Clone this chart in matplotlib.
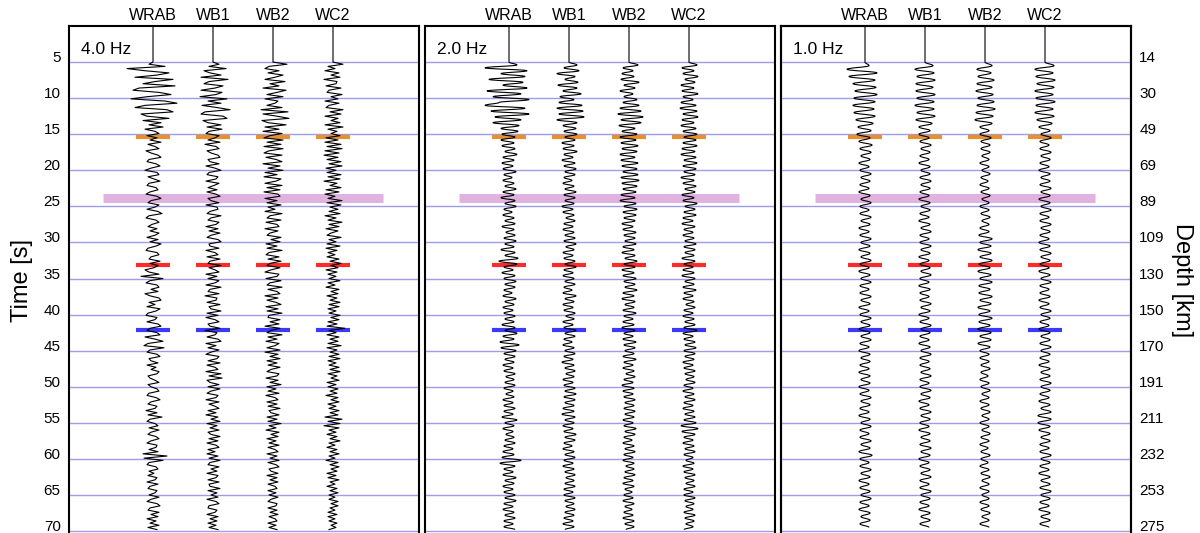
import numpy as np
import matplotlib
matplotlib.use("Agg")
from matplotlib import pyplot as plt
from matplotlib.path import Path
from matplotlib.patches import PathPatch

plt.rcParams["font.family"] = ["Liberation Sans", "DejaVu Sans"]

stations = ["WRAB", "WB1", "WB2", "WC2"]
freq_labels = ["4.0 Hz", "2.0 Hz", "1.0 Hz"]
sample_step = [0.3, 0.4, 0.5]      # s between picked extrema, per panel
trace_start = 5.0                  # s, wiggles begin here
time_ticks = [5, 10, 15, 20, 25, 30, 35, 40, 45, 50, 55, 60, 65, 70]
depth_labels = ["14", "30", "49", "69", "89", "109", "130", "150", "170",
                "191", "211", "232", "253", "275"]

# phase picks [s]
phase_times = [15.4, 33.1, 42.2]
phase_colors = ["#e8902a", "#ff2a2a", "#3a3aff"]
wide_phase_time = 23.9
wide_phase_color = "#e0b2df"

# trace amplitudes (pixels, 60 px = trace spacing)
wrab_4hz = [0, -4, 12, -26, -8, 16, 4, -18, 20, 2, -10, 22, -14, -20, 6, 18, -6, -22, 12, 24,
            -8, -18, 14, 20, -12, -6, 16, -10, 8, -4, 10, -8, 2, 6, -6, 4, -3, 8, -5, 2,
            6, -7, -2, 5, 8, -4, -6, 3, 7, -2, -8, 4, 6, -5, 1, 7, -4, -6, 3, 5,
            -3, -7, 4, 8, -2, -5, 6, 2, -6, 5, 9, -4, -7, 3, 6, -1, -5, 4, -3, 6,
            2, -6, 5, -3, 8, 3, -5, -7, 4, 6, -2, -4, 7, -3, 5, 1, -8, -4, 6, -12,
            10, -3, -7, 4, 6, -2, 5, -8, -3, 6, 8, -4, 2, -6, 7, 3, -5, -7, 4, 2,
            -6, 5, 8, -3, -6, 4, 7, -8, 2, 10, -5, -9, 11, -3, -6, 4, 7, -4, -2, 5,
            -6, 3, -2, 6, 4, -5, -3, 2, 6, -5, -2, 4, 6, -4, -6, 3, 7, -2, -5, 4,
            2, -7, 4, -5, 9, -3, -6, 2, 5, -4, 6, -2, -5, 3, 6, -2, -6, 4, 3, -4,
            5, -10, 14, -9, 10, -4, -6, 3, 5, -4, 1, -5, 4, 2, -6, 5, -3, -5, 4, 2,
            -4, 6, -2, -6, 4, 7, -3, -5, 6, -2, 5, -6, 3, -3, 6, -5, 4]
wb1_4hz = [0, 6, -4, 13, -9, -3, 8, -12, 15, -4, -9, 10, 2, -12, 9, 3, -13, 14, -5, 8,
           -11, 4, 17, -8, -12, 10, 14, -10, -5, 8, -6, 9, -4, -7, 6, 2, -5, 7, -8, 3,
           6, -6, -2, 5, 7, -5, -3, 6, -7, 2, 8, -4, -6, 5, 3, -7, 6, 1, -5, 4,
           -6, 3, 7, -5, -2, 6, -7, 4, 5, -3, -6, 8, -2, -5, 6, 3, -7, 5, -4, 7,
           -2, -6, 5, 8, -4, -3, 6, -7, 2, 5, -6, 7, -3, -5, 8, -4, 2, 6, -7, 4,
           -5, 6, 2, -7, 8, -3, -5, 6, -8, 4, 3, -6, 7, -4, -2, 8, -6, 5, -7, 2,
           6, -5, -3, 7, -8, 4, 2, -6, 5, 8, -7, 3, -5, 6, -2, -7, 6, 4, -5, 7,
           -6, 2, 5, -7, 8, -4, 9, -6, -3, 6, -5, 7, -2, -6, 5, 3, -7, 6, -4, 2,
           6, -5, 3, -7, 5, -2, 7, -6, 4, -3, 6, -5, -2, 7, -4, 5, -6, 3, 6, -5,
           2, -6, 5, -4, 7, -3, -5, 6, -2, 4, -6, 5, 3, -5, 6, -4, -3, 7, -5, 4,
           -2, 5, -6, 3, 6, -4, -5, 4, 2, -6, 5, -3, 4, -5, 3, -4, 5]
wb2_4hz = [0, 14, -4, -8, 6, -5, 10, 2, -8, 12, -3, 6, -10, 13, 4, -6, 10, -8, 5, 2,
           -6, 9, -12, 15, -10, 4, 16, -11, -5, 13, -8, 6, -10, 9, -3, -9, 10, -6, 8, -9,
           10, -4, -9, 9, -7, 3, 9, -10, 7, -5, 10, -8, 4, -9, 8, 3, -8, 9, -6, 7,
           -9, 5, 7, -8, 4, -6, 8, -5, 2, -8, 9, -3, -6, 8, -7, 4, 6, -8, 5, -3,
           -6, 8, -2, 7, -7, 4, -6, 9, -4, -7, 6, -5, 8, -3, -6, 7, -2, -8, 6, 4,
           -7, 8, -3, -6, 9, -5, 4, 7, -8, 5, -6, 3, 8, -7, 5, -6, 9, -4, -5, 7,
           -3, 6, -8, 7, -2, -6, 9, -5, 4, -7, 6, 2, -6, 7, -8, 5, -3, 7, -6, 4,
           -5, 7, -2, -6, 6, 4, -7, 5, -3, 8, -6, 3, -5, 6, -7, 2, 5, -6, 4, -5,
           7, -4, -2, 6, -6, 4, -5, 8, -4, 3, -7, 6, -2, 5, -6, 3, -4, 6, -5, 2,
           5, -6, 4, -3, 6, -5, 3, 6, -4, -2, 5, -6, 4, -3, 5, -5, 2, 4, -5, 3,
           -4, 5, -2, -5, 4, 3, -5, 4, -3, 5, -4, 2, 4, -5, 3, -4, 4]
wc2_4hz = [0, 10, -5, 2, -8, 6, -2, 7, -9, 4, 3, -7, 8, -4, -6, 9, -2, 5, -8, 6,
           -4, -7, 10, -3, 8, -8, 5, -2, 7, -8, 10, -5, 4, -2, 7, -7, 5, -8, 8, -6,
           9, -8, 6, -9, 5, -6, 8, -4, 9, -7, 3, -6, 8, -5, 7, -9, 4, -3, 8, -7,
           6, -8, 2, -5, 9, -6, 8, -3, 5, -4, 7, -8, 3, -5, 9, -4, 6, -7, 5, -2,
           -6, 8, -4, 3, -6, 7, -7, 4, -5, 2, -6, 6, -3, 8, -2, 5, -7, 4, -5, 3,
           -4, 7, -5, 2, -7, 6, -2, 5, -6, 4, -3, 7, -4, 6, -5, 3, -4, 7, -2, 6,
           -5, 4, -6, 12, -4, 3, -6, 6, -3, 5, -5, 8, -6, 4, -3, 6, -4, 7, -5, 3,
           -4, 6, -3, 7, -5, 4, -2, 6, -6, 3, -5, 5, -3, 4, -7, 5, -2, 6, -5, 3,
           -4, 6, -3, 5, -8, 9, -5, 7, -9, 6, -4, 3, -6, 4, -3, 7, -4, 2, -6, 4,
           -3, 6, -4, 2, -7, 5, -3, 6, -2, 4, -6, 3, -5, 6, -3, 2, -6, 4, -3, 5,
           -4, 2, -4, 5, -2, 5, -3, 2, -5, 4, -5, 2, -4, 4, -2, 3, -4]

wrab_2hz = [0, 8, -24, 18, -8, 16, -20, 14, -6, 18, -22, 12, -16, 20, -10,
            -24, 16, -18, 20, -14, 12, -16, 10, -8, 9, -7, 6, -8, 5, -7,
            6, -4, 8, -6, 5, -7, 4, -6, 7, -5, 3, -6, 5, -4, 7,
            -6, 5, -8, 6, -4, 7, -5, 3, -6, 5, -4, 6, -7, 5, -3,
            6, -5, 7, -4, 5, -8, 6, -4, 9, -10, 8, -5, 4, -7, 6,
            -5, 7, -4, 6, -5, 3, -6, 7, -4, 5, -6, 4, -5, 6, -4,
            5, -7, 6, -4, 8, -6, 5, -9, 10, -8, 7, -5, 6, -4, 5,
            -6, 4, -5, 6, -3, 5, -4, 6, -5, 4, -3, 5, -6, 4, -5,
            6, -5, 4, -7, 8, -4, 5, -6, 4, -3, 5, -4, 6, -5, 4,
            -6, 5, -7, 12, -9, 6, -5, 4, -6, 7, -4, 5, -6, 4, -5,
            6, -4, 7, -5, 4, -6, 5, -4, 6, -5, 4, -5, 6]
wb1_2hz = [0, 8, -5, 10, -12, 6, -4, 9, -11, 8, -6, 12, -9, 5, -10,
           13, -12, 14, -10, 15, -12, 8, -6, 7, -5, 8, -4, 6, -7, 5,
           -6, 8, -5, 4, -7, 6, -5, 7, -4, 6, -5, 3, -6, 5, -4,
           7, -5, 6, -4, 5, -7, 4, -6, 5, -3, 6, -5, 4, -6, 5,
           -4, 6, -5, 7, -3, 5, -6, 4, -5, 6, -4, 7, -5, 4, -6,
           5, -4, 6, -5, 3, -6, 7, -4, 5, -6, 4, -5, 6, -3, 5,
           -6, 4, -5, 7, -4, 6, -5, 3, -6, 5, -4, 6, -5, 4, -7,
           5, -4, 6, -3, 5, -6, 4, -5, 6, -4, 7, -5, 6, -4, 5,
           -6, 5, -7, 6, -4, 5, -6, 4, -5, 7, -4, 6, -5, 3, -6,
           5, -4, 6, -5, 4, -6, 5, -4, 6, -3, 5, -4, 6, -5, 4,
           -5, 6, -4, 5, -3, 6, -4, 5, -5, 4, -6, 5, -4]
wb2_2hz = [0, 9, -6, 4, -7, 5, -8, 10, -5, 6, -9, 4, -5, 8, -6,
           10, -9, 12, -11, 14, -8, 12, -10, 6, -7, 8, -9, 7, -8, 9,
           -7, 8, -9, 6, -8, 9, -7, 8, -6, 9, -8, 10, -7, 8, -6,
           7, -8, 6, -9, 7, -5, 8, -6, 7, -5, 6, -7, 4, -6, 7,
           -5, 6, -4, 7, -6, 5, -7, 6, -4, 8, -5, 6, -7, 5, -6,
           7, -5, 6, -4, 8, -6, 5, -7, 6, -4, 5, -6, 7, -5, 4,
           -6, 5, -7, 6, -5, 4, -6, 7, -5, 6, -4, 5, -6, 7, -5,
           4, -6, 5, -3, 6, -5, 4, -7, 5, -6, 4, -5, 6, -4, 5,
           -5, 6, -4, 5, -6, 4, -5, 7, -4, 6, -5, 3, -6, 5, -4,
           6, -5, 4, -6, 5, -3, 5, -4, 6, -5, 4, -6, 5, -4, 3,
           -5, 4, -6, 5, -4, 3, -5, 4, -6, 5, -4, 5, -3]
wc2_2hz = [0, 8, -7, 5, -6, 9, -4, 6, -8, 5, -7, 9, -6, 4, -8,
           7, -9, 8, -6, 9, -7, 5, -8, 7, -6, 8, -5, 7, -6, 8,
           -7, 6, -8, 7, -5, 8, -6, 7, -5, 6, -8, 5, -6, 7, -4,
           6, -7, 5, -6, 8, -4, 6, -5, 7, -6, 4, -7, 6, -5, 4,
           -6, 5, -4, 7, -5, 6, -4, 5, -7, 6, -5, 4, -6, 5, -7,
           6, -4, 5, -6, 7, -5, 4, -6, 5, -3, 6, -5, 4, -6, 5,
           -4, 6, -5, 8, -6, 4, -5, 6, -4, 7, -5, 6, -4, 5, -6,
           4, -5, 6, -4, 5, -3, 6, -5, 4, -6, 5, -4, 6, -5, 4,
           -6, 5, -4, 6, -5, 7, -8, 9, -7, 6, -5, 4, -6, 5, -4,
           6, -5, 4, -3, 5, -6, 4, -5, 6, -4, 5, -3, 6, -5, 4,
           -5, 6, -4, 5, -3, 4, -5, 6, -4, 5, -3, 4, -5]

wrab_1hz = [0, 4, -18, 12, -16, 10, -12, 11, -10, 12, -11, 10,
            -12, 9, -11, 10, -9, 8, -7, 6, -8, 5, -6, 7,
            -5, 6, -4, 5, -6, 4, -5, 6, -4, 5, -5, 4,
            -6, 5, -4, 6, -5, 4, -5, 6, -4, 5, -6, 4,
            -5, 6, -4, 5, -6, 5, -4, 6, -5, 4, -6, 5,
            -4, 6, -5, 4, -5, 6, -4, 5, -6, 4, -5, 6,
            -4, 5, -6, 5, -4, 6, -5, 4, -6, 5, -4, 5,
            -5, 4, -6, 5, -4, 5, -6, 4, -5, 6, -4, 5,
            -5, 4, -6, 5, -4, 6, -5, 4, -5, 6, -4, 5,
            -6, 7, -5, 4, -5, 6, -4, 5, -6, 4, -5, 5,
            -4, 6, -5, 4, -6, 5, -4, 5, -5, 4]
wb1_1hz = [0, 8, -10, 9, -8, 10, -9, 8, -9, 10, -8, 9,
           -10, 9, -8, 10, -9, 7, -6, 5, -6, 4, -5, 6,
           -4, 5, -5, 4, -6, 5, -4, 5, -5, 6, -4, 5,
           -5, 4, -6, 5, -4, 5, -5, 4, -6, 5, -4, 6,
           -5, 4, -5, 6, -4, 5, -6, 4, -5, 5, -4, 6,
           -5, 4, -6, 5, -5, 4, -5, 6, -4, 5, -6, 4,
           -5, 6, -4, 5, -5, 4, -6, 5, -4, 6, -5, 4,
           -5, 5, -4, 6, -5, 4, -5, 6, -4, 5, -6, 4,
           -5, 6, -4, 5, -5, 4, -6, 5, -4, 5, -5, 6,
           -4, 5, -6, 4, -5, 5, -4, 6, -5, 4, -5, 6,
           -4, 5, -5, 4, -6, 5, -4, 5, -5, 4]
wb2_1hz = [0, 7, -8, 6, -7, 9, -8, 7, -9, 8, -7, 9,
           -8, 10, -9, 8, -10, 7, -5, 4, -5, 6, -4, 5,
           -4, 5, -3, 4, -5, 4, -3, 5, -4, 3, -5, 4,
           -4, 5, -3, 4, -5, 4, -4, 5, -3, 4, -5, 4,
           -6, 7, -5, 6, -7, 6, -5, 7, -6, 5, -7, 6,
           -5, 7, -6, 5, -6, 7, -5, 6, -7, 5, -6, 7,
           -6, 5, -7, 6, -5, 6, -7, 5, -5, 4, -5, 4,
           -4, 5, -4, 3, -5, 4, -4, 5, -3, 4, -5, 4,
           -4, 5, -3, 4, -5, 4, -3, 5, -4, 4, -5, 3,
           -4, 5, -4, 3, -5, 4, -4, 5, -3, 4, -5, 4,
           -3, 4, -5, 4, -4, 5, -3, 4, -5, 4]
wc2_1hz = [0, 9, -10, 8, -9, 10, -8, 9, -10, 8, -9, 10,
           -9, 8, -10, 9, -8, 7, -6, 5, -4, 6, -5, 4,
           -5, 6, -4, 5, -5, 4, -6, 5, -4, 5, -5, 6,
           -4, 5, -6, 5, -4, 6, -5, 4, -5, 6, -4, 5,
           -5, 4, -6, 5, -5, 6, -4, 5, -5, 4, -6, 5,
           -4, 6, -5, 4, -5, 5, -6, 4, -5, 6, -4, 5,
           -5, 4, -6, 5, -4, 5, -5, 6, -4, 5, -5, 4,
           -6, 5, -4, 5, -5, 6, -4, 5, -5, 4, -6, 5,
           -4, 6, -7, 6, -7, 5, -6, 5, -4, 5, -5, 4,
           -5, 6, -4, 5, -5, 4, -6, 5, -4, 5, -5, 6,
           -4, 5, -5, 4, -6, 5, -4, 5, -5, 4]

panels = [[wrab_4hz, wb1_4hz, wb2_4hz, wc2_4hz],
          [wrab_2hz, wb1_2hz, wb2_2hz, wc2_2hz],
          [wrab_1hz, wb1_1hz, wb2_1hz, wc2_1hz]]

# layout, in pixels of the 1200x533 picture
W, H = 1200, 533
panel_left = [69, 425, 781]
panel_w = 350
top_px = 26
px_per_s = 7.215
px_per_unit = 60.0
t_max = 70.5
x_lo = -0.4
x_hi = x_lo + panel_w / px_per_unit


def smooth_trace(ax, x0, amps, dt):
    x = x0 + np.asarray(amps) / px_per_unit
    t = trace_start + dt * np.arange(len(x))
    verts = [(x0, 0.0), (x[0], t[0])]
    codes = [Path.MOVETO, Path.LINETO]
    for i in range(len(x) - 1):
        verts += [(x[i], t[i] + 0.4 * dt), (x[i + 1], t[i + 1] - 0.4 * dt),
                  (x[i + 1], t[i + 1])]
        codes += [Path.CURVE4] * 3
    ax.add_patch(PathPatch(Path(verts, codes), fill=False, lw=0.8,
                           edgecolor="k", zorder=4))


def jagged_trace(ax, x0, amps, dt):
    x = x0 + np.asarray(amps) / px_per_unit
    t = trace_start + dt * np.arange(len(x))
    ax.plot(np.r_[x0, x], np.r_[0.0, t], color="k", lw=0.8, zorder=4)


fig = plt.figure(figsize=(W / 100, H / 100), dpi=100)
h_px = t_max * px_per_s
axes = []
for k in range(3):
    ax = fig.add_axes([panel_left[k] / W, 1 - (top_px + h_px) / H,
                       panel_w / W, h_px / H])
    ax.set_xlim(x_lo, x_hi)
    ax.set_ylim(t_max, 0)
    ax.set_xticks([])
    ax.set_yticks(time_ticks)
    ax.grid(axis="y", color="#9c9ce8", lw=1.0)
    ax.set_axisbelow(True)
    ax.tick_params(axis="y", length=0, pad=6, labelsize=11,
                   labelleft=(k == 0))
    for s in ax.spines.values():
        s.set_linewidth(1.5)

    # phase markers
    ax.hlines(wide_phase_time, 0.17, 4.83, color=wide_phase_color, lw=6.5,
              zorder=2)
    for j in range(4):
        c = j + 1
        for tp, col in zip(phase_times, phase_colors):
            ax.hlines(tp, c - 0.28, c + 0.28, color=col, lw=3, zorder=3)
        if k == 0:
            jagged_trace(ax, c, panels[k][j], sample_step[k])
        else:
            smooth_trace(ax, c, panels[k][j], sample_step[k])
        ax.text(c, -1.4, stations[j], ha="center", va="center", fontsize=11.5,
                clip_on=False)

    ax.text(x_lo + 0.2, 3.2, freq_labels[k], ha="left", va="center",
            fontsize=12.5)
    axes.append(ax)

for lab in axes[0].get_yticklabels():
    lab.set_va("baseline")
axes[0].set_ylabel("Time [s]", fontsize=17, labelpad=8)

axr = axes[2].twinx()
axr.set_ylim(t_max, 0)
axr.set_yticks(time_ticks)
axr.set_yticklabels(depth_labels)
axr.tick_params(axis="y", length=0, pad=6, labelsize=11)
for lab in axr.get_yticklabels():
    lab.set_va("baseline")
for s in axr.spines.values():
    s.set_linewidth(1.5)
axr.set_ylabel("Depth [km]", fontsize=17, rotation=270, labelpad=20)

fig.savefig("out.png", dpi=100)
